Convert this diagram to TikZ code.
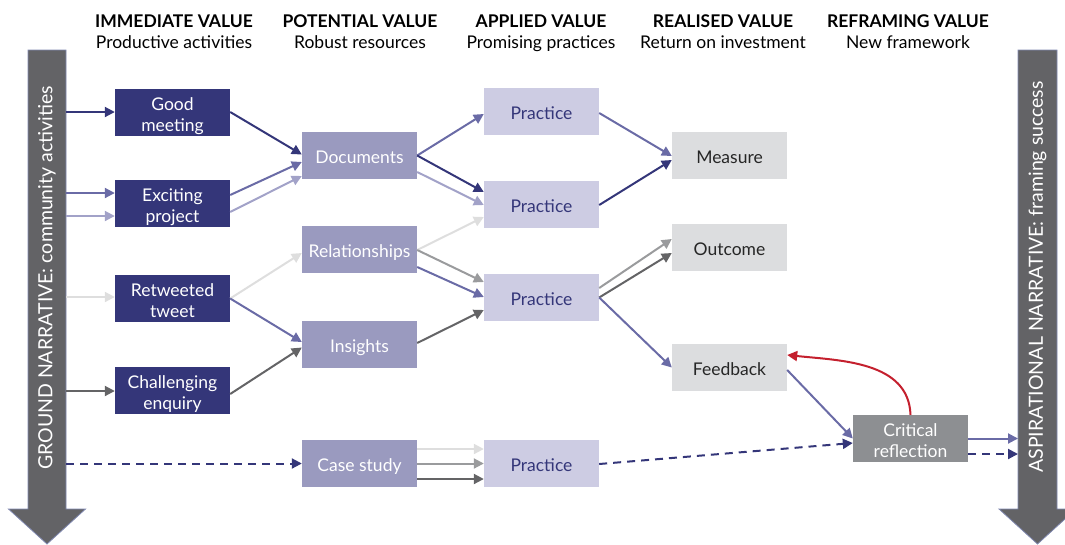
\documentclass[tikz,border=0pt]{standalone}
\usepackage{fontspec}
\setmainfont{Lato}
\usetikzlibrary{arrows.meta}

\definecolor{navy}{HTML}{343679}
\definecolor{docfill}{HTML}{9A9ABF}
\definecolor{pracfill}{HTML}{CDCCE3}
\definecolor{resfill}{HTML}{DCDDDF}
\definecolor{critfill}{HTML}{8D8F92}
\definecolor{shaftfill}{HTML}{636366}
\definecolor{shaftline}{HTML}{8088B0}
\definecolor{apurple}{HTML}{6A6BA6}
\definecolor{alilac}{HTML}{A2A2C8}
\definecolor{alight}{HTML}{DEDEDE}
\definecolor{amid}{HTML}{9A9B9D}
\definecolor{adark}{HTML}{646466}
\definecolor{ared}{HTML}{C4202E}

\tikzset{
  x=1pt, y=-1pt,
  box/.style={rectangle, minimum width=115pt, minimum height=47pt, inner sep=0pt,
    align=center, font=\fontsize{17.5}{21}\selectfont, text height=15pt, text depth=0pt},
  twoline/.style={text height=38pt, text depth=0pt},
  activity/.style={box, twoline, fill=navy, text=white},
  resource/.style={box, fill=docfill, text=white},
  practice/.style={box, fill=pracfill, text=navy},
  result/.style={box, fill=resfill, text=black!85},
  reflect/.style={box, twoline, fill=critfill, text=white},
  link/.style={line width=2pt, -{Triangle[length=10pt,width=10pt]}},
  dlink/.style={link, dash pattern=on 8pt off 6pt},
  head/.style={anchor=base, font=\fontsize{17.5}{20}\selectfont\bfseries},
  sub/.style={anchor=base, font=\fontsize{17.5}{20}\selectfont},
  shaft/.style={fill=shaftfill, draw=shaftline, line width=0.8pt},
  shafttext/.style={text=white, rotate=90, font=\fontsize{19.5}{22}\selectfont}
}

\begin{document}
\begin{tikzpicture}
\useasboundingbox (0,0) rectangle (1065,544);
\clip (0,0) rectangle (1065,544);

% column headings
\node[head] (h1) at (174,27) {IMMEDIATE VALUE};
\node[sub]  (s1) at (174,48) {Productive activities};
\node[head] (h2) at (360,27) {POTENTIAL VALUE};
\node[sub]  (s2) at (360,48) {Robust resources};
\node[head] (h3) at (541,27) {APPLIED VALUE};
\node[sub]  (s3) at (541,48) {Promising practices};
\node[head] (h4) at (723,27) {REALISED VALUE};
\node[sub]  (s4) at (723,48) {Return on investment};
\node[head] (h5) at (908,27) {REFRAMING VALUE};
\node[sub]  (s5) at (908,48) {New framework};

% narrative arrows
\draw[shaft] (28,50) -- (66,50) -- (66,509) -- (85.5,509) -- (47,544) -- (8.5,509) -- (28,509) -- cycle;
\node[shafttext] (ground) at (47,278) {GROUND NARRATIVE: community activities};
\draw[shaft] (1018,50) -- (1057,50) -- (1057,509) -- (1076,509) -- (1037.5,544) -- (999,509) -- (1018,509) -- cycle;
\node[shafttext] (aspire) at (1037.5,277) {ASPIRATIONAL NARRATIVE: framing success};

% boxes
\node[activity] (gm) at (172.5,112)   {Good\\meeting};
\node[activity] (ep) at (172.5,203.5) {Exciting\\project};
\node[activity] (rt) at (172.5,298.5) {Retweeted\\tweet};
\node[activity] (ce) at (172.5,390)   {Challenging\\enquiry};

\node[resource] (doc) at (359.5,155.5) {Documents};
\node[resource] (rel) at (359.5,249.5) {Relationships};
\node[resource] (ins) at (359.5,344.5) {Insights};
\node[resource] (cs)  at (359.5,463.5) {Case study};

\node[practice] (p1) at (541.5,111.5) {Practice};
\node[practice] (p2) at (541.5,204.5) {Practice};
\node[practice] (p3) at (541.5,297.5) {Practice};
\node[practice] (p4) at (541.5,463.5) {Practice};

\node[result] (ms) at (729.5,155.5) {Measure};
\node[result] (oc) at (729.5,247.5) {Outcome};
\node[result] (fb) at (729.5,367.5) {Feedback};

\node[reflect] (cr) at (910.5,438.5) {Critical\\reflection};

% free ends on the narrative shafts
\coordinate (g1) at (66,112);
\coordinate (g2) at (66,193);
\coordinate (g3) at (66,216);
\coordinate (g4) at (66,297);
\coordinate (g5) at (66,391);
\coordinate (g6) at (66,463.5);
\coordinate (a1) at (1018,438.5);
\coordinate (a2) at (1018,454);

% from the ground narrative
\draw[link, navy]    (g1) -- (gm.west);
\draw[link, apurple] (g2) -- ([yshift=10.5pt]ep.west);
\draw[link, alilac]  (g3) -- ([yshift=-12.5pt]ep.west);
\draw[link, alight]  (g4) -- ([yshift=1.5pt]rt.west);
\draw[link, adark]   (g5) -- ([yshift=-1pt]ce.west);
\draw[dlink, navy]   (g6) -- (cs.west);

% activities to resources
\draw[link, navy]    (gm.east) -- ([yshift=1pt]doc.west);
\draw[link, apurple] ([yshift=8.5pt]ep.east) -- ([yshift=-6.5pt]doc.west);
\draw[link, alilac]  ([yshift=-8.5pt]ep.east) -- ([yshift=-20.5pt]doc.west);
\draw[link, alight]  (rt.east) -- ([yshift=-3.5pt]rel.west);
\draw[link, apurple] (rt.east) -- ([yshift=2.5pt]ins.west);
\draw[link, adark]   ([yshift=-4pt]ce.east) -- ([yshift=-3pt]ins.west);

% resources to practices
\draw[link, apurple] (doc.east) -- ([yshift=-2.5pt]p1.west);
\draw[link, navy]    (doc.east) -- ([yshift=12.5pt]p2.west);
\draw[link, alilac]  ([yshift=-16.5pt]doc.east) -- ([yshift=-0.5pt]p2.west);
\draw[link, alight]  ([yshift=-0.5pt]rel.east) -- ([yshift=-12.5pt]p2.west);
\draw[link, amid]    ([yshift=-0.5pt]rel.east) -- ([yshift=15.5pt]p3.west);
\draw[link, apurple] ([yshift=-17.5pt]rel.east) -- ([yshift=0.5pt]p3.west);
\draw[link, adark]   ([yshift=1.5pt]ins.east) -- ([yshift=-12.5pt]p3.west);
\draw[link, alight]  ([yshift=14.5pt]cs.east) -- ([yshift=14.5pt]p4.west);
\draw[link, amid]    (cs.east) -- (p4.west);
\draw[link, adark]   ([yshift=-15.5pt]cs.east) -- ([yshift=-15.5pt]p4.west);

% practices to results
\draw[link, apurple] ([yshift=-1.5pt]p1.east) -- ([yshift=-0.5pt]ms.west);
\draw[link, navy]    ([yshift=-0.5pt]p2.east) -- ([yshift=-4.5pt]ms.west);
\draw[link, amid]    ([yshift=9.5pt]p3.east) -- ([yshift=8.5pt]oc.west);
\draw[link, adark]   (p3.east) -- ([yshift=-5.5pt]oc.west);
\draw[link, apurple] (p3.east) -- (fb.west);

% towards critical reflection
\draw[link, apurple] ([yshift=-2.5pt]fb.east) -- (cr.west);
\draw[dlink, navy]   ([yshift=-0.5pt]p4.east) -- ([yshift=-4.5pt]cr.west);
\draw[link, ared]    (cr.north) to[out=92, in=-6] ([yshift=12.5pt]fb.east);

% into the aspirational narrative
\draw[link, apurple] (cr.east) -- (a1);
\draw[dlink, navy]   ([yshift=-15.5pt]cr.east) -- (a2);
\end{tikzpicture}
\end{document}
